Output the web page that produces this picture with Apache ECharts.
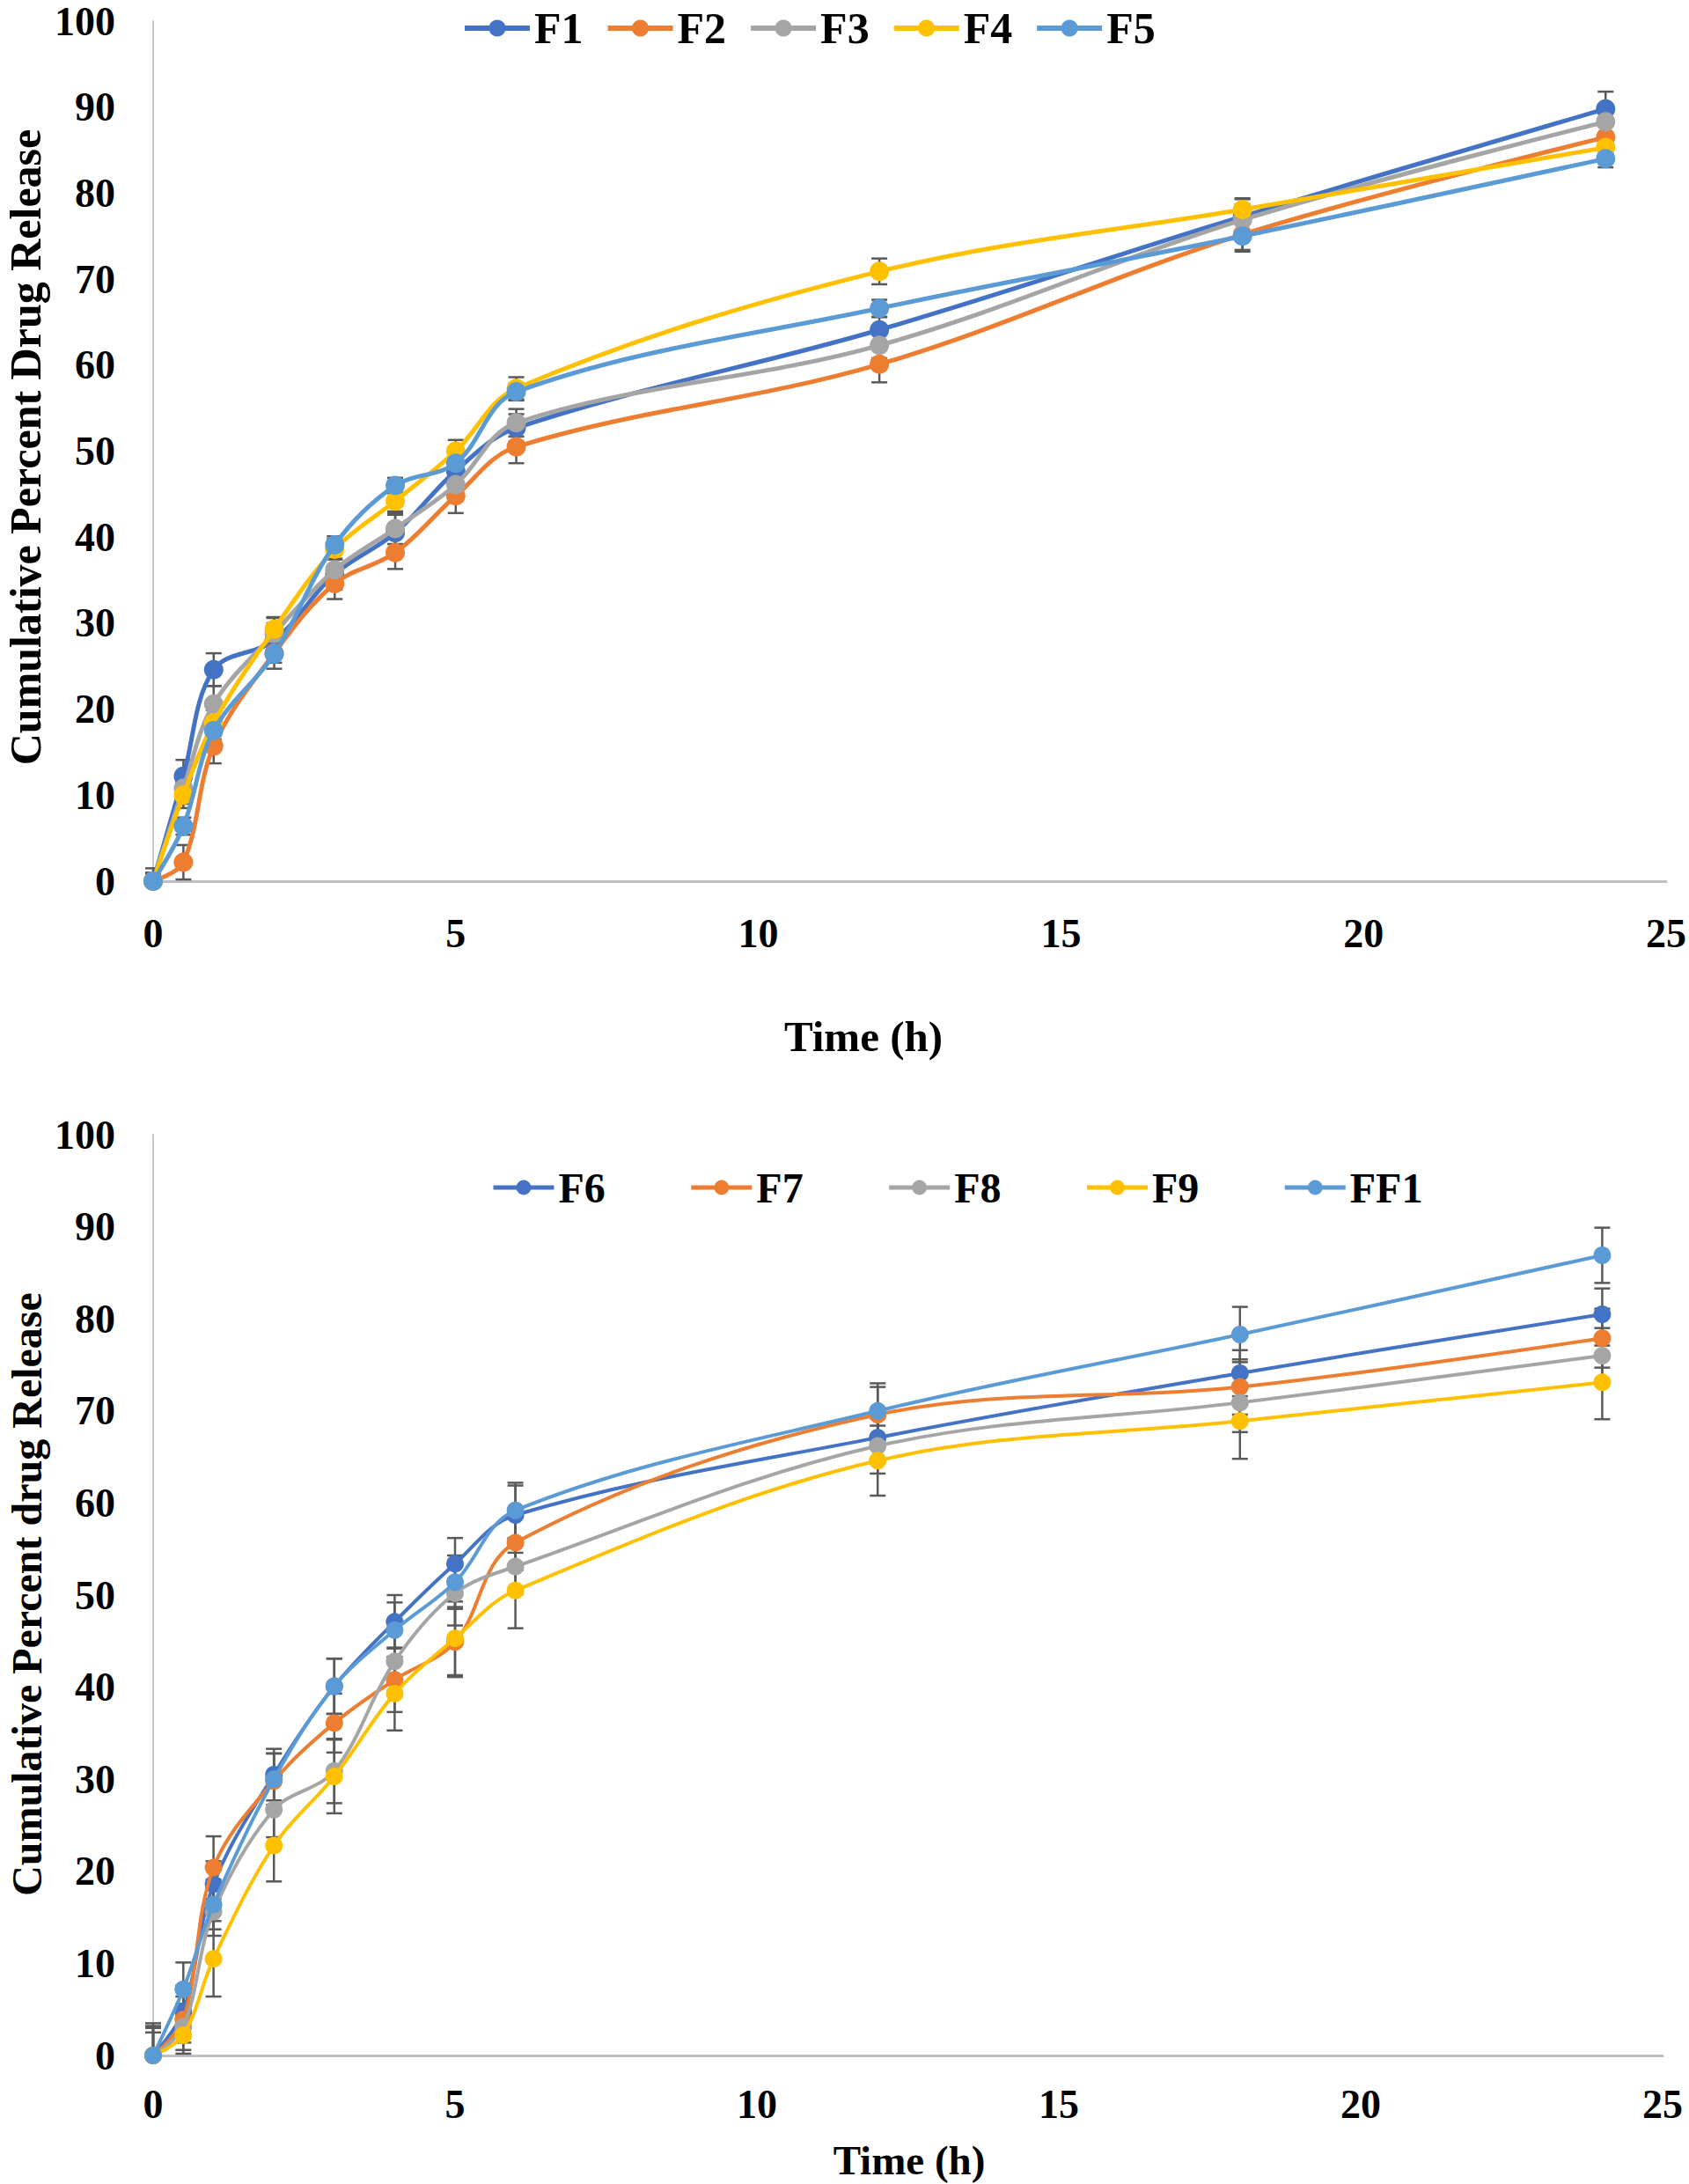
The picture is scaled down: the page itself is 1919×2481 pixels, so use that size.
<!DOCTYPE html>
<html>
<head>
<meta charset="utf-8">
<script src="https://cdn.jsdelivr.net/npm/echarts@6/dist/echarts.min.js"></script>
<style>
html,body{margin:0;padding:0;background:#fff;}
#c{width:1919px;height:2481px;}
</style>
</head>
<body>
<div id="c"></div>
<script>
// ---- data ----
const times = [0, 0.5, 1, 2, 3, 4, 5, 6, 12, 18, 24];
const xTicks = [0, 5, 10, 15, 20, 25];
const yTicks = [0, 10, 20, 30, 40, 50, 60, 70, 80, 90, 100];

const topNames = ['F1', 'F2', 'F3', 'F4', 'F5'];
const F1 = [0, 12.2, 24.6, 28.0, 35.7, 40.5, 47.7, 52.7, 64.1, 77.3, 89.8];
const F2 = [0, 2.2, 15.7, 26.5, 34.6, 38.2, 44.8, 50.5, 60.1, 75.2, 86.5];
const F3 = [0, 10.8, 20.6, 28.8, 36.2, 41.0, 46.1, 53.3, 62.3, 76.9, 88.3];
const F4 = [0, 10.0, 18.4, 29.3, 38.6, 44.2, 50.0, 57.3, 70.9, 78.1, 85.3];
const F5 = [0, 6.4, 17.5, 26.4, 39.1, 46.0, 48.6, 56.9, 66.6, 75.0, 84.0];
const F1err = [1.5, 1.9, 1.9, 2.0, 1.8, 2.1, 2.0, 1.6, 1.5, 2.0, 2.0];
const F2err = [1.0, 2.0, 2.0, 1.8, 1.8, 1.9, 2.0, 1.9, 2.1, 1.8, 1.8];
const F3err = [1.0, 1.8, 2.1, 1.8, 1.8, 1.8, 1.8, 1.6, 1.5, 1.8, 1.5];
const F4err = [0.8, 1.5, 1.5, 1.4, 1.2, 1.2, 1.3, 1.3, 1.5, 1.3, 1.2];
const F5err = [0.8, 1.0, 1.0, 1.0, 1.0, 0.9, 1.0, 1.0, 1.0, 1.8, 1.0];

const botNames = ['F6', 'F7', 'F8', 'F9', 'FF1'];
const F6 = [0, 4.8, 18.6, 30.5, 40.1, 47.1, 53.4, 58.7, 67.1, 74.1, 80.5];
const F7 = [0, 3.9, 20.4, 29.8, 36.1, 40.8, 44.9, 55.7, 69.6, 72.6, 77.9];
const F8 = [0, 3.1, 15.6, 26.7, 30.9, 42.8, 50.2, 53.1, 66.2, 70.9, 76.0];
const F9 = [0, 2.2, 10.5, 22.8, 30.3, 39.3, 45.3, 50.5, 64.6, 68.9, 73.1];
const FF1 = [0, 7.2, 16.4, 30.0, 40.1, 46.2, 51.4, 59.2, 70.0, 78.3, 86.9];
const F6err = [3.0, 2.8, 2.5, 2.8, 3.0, 2.9, 2.8, 3.2, 2.5, 2.5, 2.8];
const F7err = [3.5, 2.5, 3.4, 3.0, 3.2, 3.5, 3.8, 3.0, 3.0, 3.0, 3.2];
const F8err = [3.2, 2.5, 2.6, 3.0, 3.5, 3.2, 3.5, 3.0, 3.0, 3.2, 3.0];
const F9err = [2.5, 2.0, 4.1, 3.9, 4.0, 4.0, 4.0, 4.1, 3.8, 4.1, 4.0];
const FF1err = [3.0, 2.9, 2.7, 2.8, 3.0, 3.0, 2.9, 3.0, 3.0, 3.0, 3.0];

const colors = ['#4472C4', '#ED7D31', '#A5A5A5', '#FFC000', '#5B9BD5'];

// ---- build ----
const FONT = '"Liberation Serif","Times New Roman",serif';
const topVals = [F1, F2, F3, F4, F5], topErr = [F1err, F2err, F3err, F4err, F5err];
const botVals = [F6, F7, F8, F9, FF1], botErr = [F6err, F7err, F8err, F9err, FF1err];

function errRender(params, api) {
  const x = api.value(0), lo = api.value(1), hi = api.value(2);
  const p1 = api.coord([x, lo]), p2 = api.coord([x, hi]);
  const w = 9;
  const st = {stroke: '#595959', lineWidth: 2.5};
  return {type: 'group', children: [
    {type: 'line', shape: {x1: p1[0], y1: p1[1], x2: p2[0], y2: p2[1]}, style: st},
    {type: 'line', shape: {x1: p1[0] - w, y1: p1[1], x2: p1[0] + w, y2: p1[1]}, style: st},
    {type: 'line', shape: {x1: p2[0] - w, y1: p2[1], x2: p2[0] + w, y2: p2[1]}, style: st}
  ]};
}

const series = [];
function addGroup(names, vals, errs, axisIdx, lw, sym) {
  names.forEach((n, i) => {
    series.push({
      type: 'custom', name: n + ' err', xAxisIndex: axisIdx, yAxisIndex: axisIdx,
      renderItem: errRender, z: 1, silent: true,
      encode: {x: 0, y: [1, 2]},
      data: times.map((t, k) => [t, Math.max(0, vals[i][k] - errs[i][k]), vals[i][k] + errs[i][k]])
    });
  });
  names.forEach((n, i) => {
    series.push({
      type: 'line', name: n, xAxisIndex: axisIdx, yAxisIndex: axisIdx,
      smooth: 0.35, z: 2 + i,
      symbol: 'circle', symbolSize: sym,
      itemStyle: {color: colors[i]},
      lineStyle: {color: colors[i], width: lw},
      data: times.map((t, k) => [t, vals[i][k]])
    });
  });
}
addGroup(topNames, topVals, topErr, 0, 5, 22);
addGroup(botNames, botVals, botErr, 1, 4, 20);

function xAxisCfg(gi, lblMargin) {
  return {
    type: 'value', gridIndex: gi, min: xTicks[0], max: xTicks[xTicks.length - 1], interval: 5,
    axisLine: {show: true, lineStyle: {color: '#BFBFBF', width: 3}},
    axisTick: {show: false}, splitLine: {show: false},
    axisLabel: {fontFamily: FONT, fontWeight: 'bold', fontSize: 46, color: '#000', margin: lblMargin}
  };
}
function yAxisCfg(gi) {
  return {
    type: 'value', gridIndex: gi, min: yTicks[0], max: yTicks[yTicks.length - 1], interval: 10,
    axisLine: {show: true, lineStyle: {color: '#C8C8C8', width: 2}},
    axisTick: {show: false}, splitLine: {show: false},
    axisLabel: {fontFamily: FONT, fontWeight: 'bold', fontSize: 46, color: '#000', margin: 43}
  };
}

const option = {
  animation: false,
  backgroundColor: '#fff',
  grid: [
    {left: 174, top: 24, width: 1721, height: 977},
    {left: 174, top: 1289, width: 1715, height: 1046}
  ],
  xAxis: [xAxisCfg(0, 36), xAxisCfg(1, 32)],
  yAxis: [yAxisCfg(0), yAxisCfg(1)],
  legend: [
    {data: topNames, left: 525, top: 7, padding: 0, itemWidth: 74, itemHeight: 24, itemGap: 25,
     lineStyle: {width: 6},
     textStyle: {fontFamily: FONT, fontWeight: 'bold', fontSize: 50, color: '#000'}},
    {data: botNames, left: 558, top: 1325, padding: 0, itemWidth: 69, itemHeight: 21, itemGap: 95,
     lineStyle: {width: 5},
     textStyle: {fontFamily: FONT, fontWeight: 'bold', fontSize: 48, color: '#000'}}
  ],
  graphic: [
    {type: 'text', x: 981, y: 1177, style: {text: 'Time (h)', font: 'bold 49px ' + FONT, fill: '#000', textAlign: 'center', textVerticalAlign: 'middle'}},
    {type: 'text', x: 1033, y: 2454, style: {text: 'Time (h)', font: 'bold 47px ' + FONT, fill: '#000', textAlign: 'center', textVerticalAlign: 'middle'}},
    {type: 'text', x: 29, y: 508, rotation: Math.PI / 2, style: {text: 'Cumulative Percent Drug Release', font: 'bold 50px ' + FONT, fill: '#000', textAlign: 'center', textVerticalAlign: 'middle'}},
    {type: 'text', x: 30, y: 1811, rotation: Math.PI / 2, style: {text: 'Cumulative Percent drug Release', font: 'bold 48px ' + FONT, fill: '#000', textAlign: 'center', textVerticalAlign: 'middle'}}
  ],
  series: series
};

const chart = echarts.init(document.getElementById('c'), null, {renderer: 'svg', width: 1919, height: 2481});
chart.setOption(option);
</script>
</body>
</html>
